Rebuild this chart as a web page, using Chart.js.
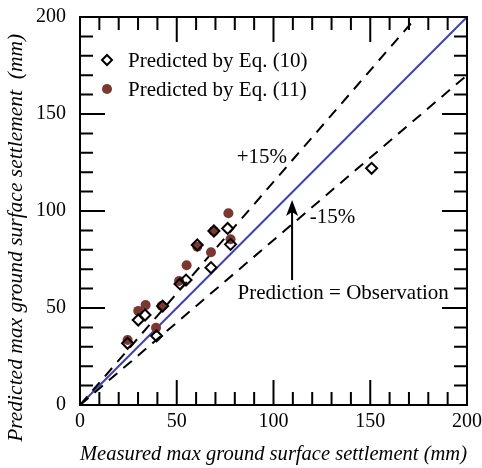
<!DOCTYPE html>
<html>
<head>
<meta charset="utf-8">
<script src="https://cdn.jsdelivr.net/npm/chart.js@4/dist/chart.umd.min.js"></script>
<style>
  html, body { margin: 0; background: #fff; }
</style>
</head>
<body>
<canvas id="chart" width="482" height="468"></canvas>
<script>
// measured (x) vs predicted (y) settlements, mm
const eq10X = [24.6, 30.1, 33.6, 39.6, 42.7, 51.7, 54.8, 60.6, 67.7, 69.2, 76.3, 77.8, 150.7];
const eq10Y = [31.8, 43.8, 46.4, 35.6, 51.0, 62.4, 64.4, 82.5, 70.8, 89.7, 91.0, 82.8, 122.0];
const eq11X = [24.6, 30.1, 33.9, 39.3, 42.2, 51.2, 55.1, 60.6, 67.7, 69.2, 76.7, 77.8];
const eq11Y = [33.5, 48.5, 51.5, 39.8, 51.0, 63.9, 72.0, 81.6, 78.7, 89.7, 98.8, 85.4];
const refX = [0, 200];
const upperRatio = 1.15;
const lowerRatio = 0.85;
const axisTicks = [0, 50, 100, 150, 200];

const serif = "'Liberation Serif', 'Times New Roman', serif";
const brown = '#7b3833';

const pts = (xs, ys) => xs.map((v, i) => ({ x: v, y: ys[i] }));

// inward ticks on all four sides + box, legend and notes
const frameTicks = {
  id: 'frameTicks',
  afterDatasetsDraw(chart) {
    const { ctx, chartArea: a, scales: { x, y } } = chart;
    ctx.save();
    ctx.strokeStyle = '#000';
    ctx.lineWidth = 2;
    ctx.beginPath();
    for (let v = 0; v <= 200; v += 10) {
      const len = axisTicks.includes(v) ? 25 : 13;
      const px = x.getPixelForValue(v), py = y.getPixelForValue(v);
      ctx.moveTo(px, a.bottom); ctx.lineTo(px, a.bottom - len);
      ctx.moveTo(px, a.top); ctx.lineTo(px, a.top + len);
      ctx.moveTo(a.left, py); ctx.lineTo(a.left + len, py);
      ctx.moveTo(a.right, py); ctx.lineTo(a.right - len, py);
    }
    ctx.stroke();
    ctx.strokeRect(a.left, a.top, a.width, a.height);
    ctx.restore();
  },
  afterDraw(chart) {
    const { ctx, chartArea: a, scales: { x, y } } = chart;
    ctx.save();
    ctx.font = '21px ' + serif;
    ctx.fillStyle = '#000';
    ctx.textBaseline = 'middle';

    // legend
    const lx = a.left + 27, ly1 = a.top + 43, ly2 = a.top + 72;
    ctx.strokeStyle = '#000';
    ctx.lineWidth = 2;
    ctx.beginPath();
    ctx.moveTo(lx, ly1 - 5); ctx.lineTo(lx + 5, ly1); ctx.lineTo(lx, ly1 + 5); ctx.lineTo(lx - 5, ly1);
    ctx.closePath();
    ctx.stroke();
    ctx.fillStyle = brown;
    ctx.beginPath();
    ctx.arc(lx, ly2, 5, 0, Math.PI * 2);
    ctx.fill();
    ctx.fillStyle = '#000';
    ctx.fillText('Predicted by Eq. (10)', lx + 21, ly1 + 1);
    ctx.fillText('Predicted by Eq. (11)', lx + 21, ly2 + 1);

    // annotations
    ctx.textAlign = 'center';
    ctx.fillText('+15%', x.getPixelForValue(94), y.getPixelForValue(127.8));
    ctx.fillText('-15%', x.getPixelForValue(130.5), y.getPixelForValue(96.4));
    ctx.fillText('Prediction = Observation', x.getPixelForValue(136), y.getPixelForValue(57.7));

    const ax = x.getPixelForValue(109.6);
    const top = y.getPixelForValue(105.7), bot = y.getPixelForValue(64.4);
    ctx.beginPath();
    ctx.moveTo(ax, bot); ctx.lineTo(ax, top + 4);
    ctx.stroke();
    ctx.beginPath();
    ctx.moveTo(ax, top); ctx.lineTo(ax - 6, top + 16); ctx.lineTo(ax, top + 12); ctx.lineTo(ax + 6, top + 16);
    ctx.closePath();
    ctx.fill();
    ctx.restore();
  }
};

new Chart(document.getElementById('chart'), {
  type: 'scatter',
  data: {
    datasets: [
      {
        label: 'Predicted by Eq. (10)',
        data: pts(eq10X, eq10Y),
        pointStyle: 'rectRot',
        pointRadius: 5.5,
        pointBorderWidth: 2,
        pointBorderColor: '#000',
        pointBackgroundColor: 'rgba(0,0,0,0)'
      },
      {
        label: 'Predicted by Eq. (11)',
        data: pts(eq11X, eq11Y),
        pointStyle: 'circle',
        pointRadius: 5,
        pointBorderWidth: 0,
        pointBackgroundColor: brown
      },
      {
        type: 'line',
        label: '+15%',
        data: refX.map(v => ({ x: v, y: v * upperRatio })),
        borderColor: '#000',
        borderWidth: 2,
        borderDash: [11, 8],
        pointRadius: 0
      },
      {
        type: 'line',
        label: '-15%',
        data: refX.map(v => ({ x: v, y: v * lowerRatio })),
        borderColor: '#000',
        borderWidth: 2,
        borderDash: [11, 8],
        pointRadius: 0
      },
      {
        type: 'line',
        label: 'Prediction = Observation',
        data: refX.map(v => ({ x: v, y: v })),
        borderColor: '#4040b0',
        borderWidth: 2,
        pointRadius: 0
      }
    ]
  },
  options: {
    responsive: false,
    animation: false,
    layout: { padding: { top: 17, right: 15, left: 0, bottom: 0 } },
    plugins: { legend: { display: false }, tooltip: { enabled: false } },
    scales: {
      x: {
        type: 'linear',
        min: 0, max: 200,
        afterFit: s => { s.height = 63; s.paddingLeft = 0; s.paddingRight = 0; },
        afterBuildTicks: s => { s.ticks = axisTicks.map(v => ({ value: v })); },
        grid: { display: false, drawTicks: false },
        border: { display: false },
        ticks: { color: '#000', font: { family: serif, size: 20 }, padding: 5, maxRotation: 0 },
        title: {
          display: true,
          text: 'Measured max ground surface settlement (mm)',
          color: '#000',
          font: { family: serif, size: 21.5, style: 'italic' },
          padding: { top: 0, bottom: 1 }
        }
      },
      y: {
        type: 'linear',
        min: 0, max: 200,
        afterFit: s => { s.width = 80; s.paddingTop = 0; s.paddingBottom = 0; },
        afterBuildTicks: s => { s.ticks = axisTicks.map(v => ({ value: v })); },
        grid: { display: false, drawTicks: false },
        border: { display: false },
        ticks: { color: '#000', font: { family: serif, size: 20 }, padding: 14 },
        title: {
          display: true,
          text: 'Predicted max ground surface settlement  (mm)' + '\u00a0'.repeat(10),
          color: '#000',
          font: { family: serif, size: 21.5, style: 'italic' },
          padding: { top: 3, bottom: 0 }
        }
      }
    }
  },
  plugins: [frameTicks]
});
</script>
</body>
</html>
